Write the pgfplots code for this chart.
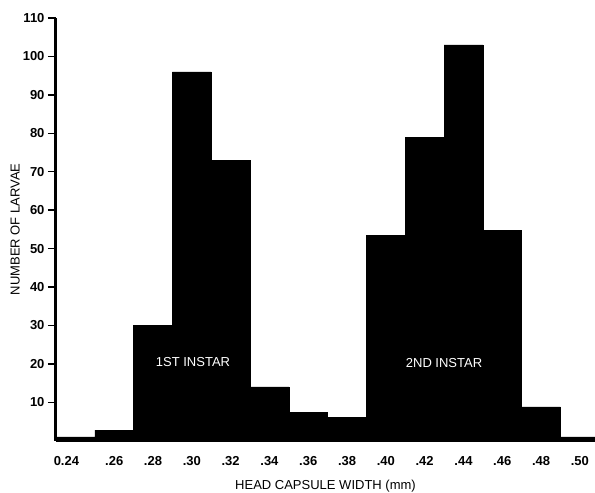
\documentclass[border=0pt]{standalone}
\usepackage{fontspec}
\setmainfont{Liberation Sans}
\usepackage{pgfplots}
\pgfplotsset{compat=1.18}
\begin{document}
\begin{tikzpicture}
\begin{axis}[
  name=ax,
  scale only axis,
  width=539pt, height=422.8pt,
  xmin=0.23, xmax=0.5078, ymin=0, ymax=110,
  axis x line*=bottom, axis y line*=left,
  axis line style={line width=3pt},
  tick align=outside, major tick length=8pt,
  ytick={10,20,30,40,50,60,70,80,90,100,110},
  ytick style={line width=1.5pt, black},
  xtick={0.26,0.28,0.30,0.32,0.34,0.36,0.38,0.40,0.42,0.44,0.46,0.48,0.50},
  xticklabels={.26,.28,.30,.32,.34,.36,.38,.40,.42,.44,.46,.48,.50},
  xtick style={draw=none},
  extra x ticks={0.24}, extra x tick labels={0.24},
  extra x tick style={tick style={draw=none}, xticklabel style={xshift=-9pt}},
  /pgf/number format/assume math mode=true,
  ticklabel style={font=\fontsize{13}{15}\selectfont\bfseries},
  xticklabel style={yshift=-4pt},
  xlabel={HEAD CAPSULE WIDTH (mm)},
  ylabel={NUMBER OF LARVAE},
  every axis x label/.style={at={(axis description cs:0.5,-0.107)}, anchor=center,
    font=\fontsize{13}{15}\selectfont},
  every axis y label/.style={at={(axis description cs:-0.076,0.5)}, rotate=90, anchor=center,
    font=\fontsize{13}{15}\selectfont},
]
\addplot[ybar interval, fill=black, draw=black] coordinates {
  (0.23,1) (0.25,2.8) (0.27,30) (0.29,96) (0.31,73) (0.33,14) (0.35,7.4)
  (0.37,6.1) (0.39,53.5) (0.41,79) (0.43,103) (0.45,54.7) (0.47,8.8)
  (0.49,1) (0.51,1)
};
\node[white, font=\fontsize{13}{15}\selectfont] at (axis cs:0.3006,20.5) {1ST INSTAR};
\node[white, font=\fontsize{13}{15}\selectfont] at (axis cs:0.430,20.3) {2ND INSTAR};
\end{axis}
\pgfresetboundingbox
\path[use as bounding box] ([shift={(-56pt,-52pt)}]ax.south west) rectangle ([shift={(0pt,18pt)}]ax.north east);
\end{tikzpicture}
\end{document}
